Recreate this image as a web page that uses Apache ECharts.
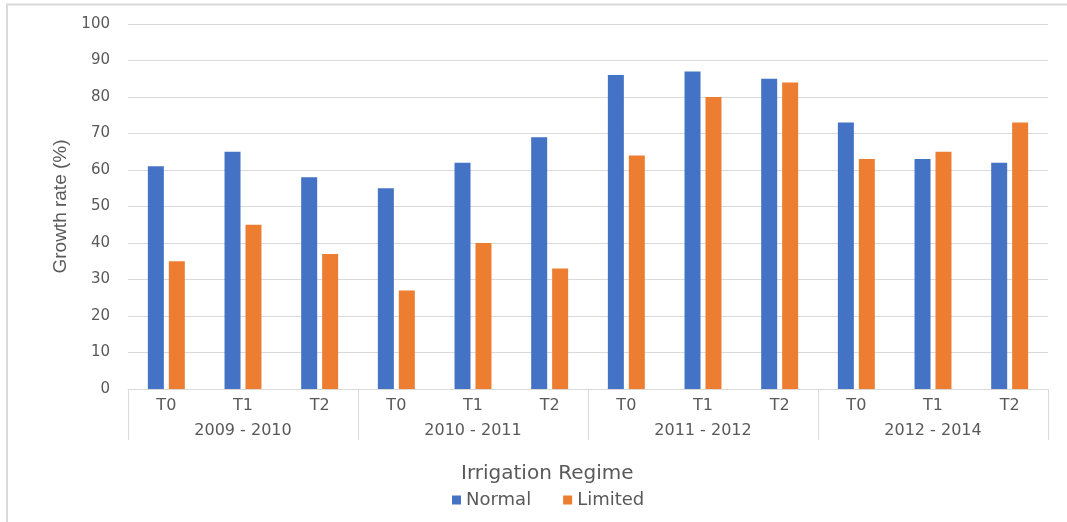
<!DOCTYPE html>
<html>
<head>
<meta charset="utf-8">
<script src="https://cdn.jsdelivr.net/npm/echarts@6/dist/echarts.min.js"></script>
<style>html,body{margin:0;padding:0;background:#fff;}#c{width:1067px;height:522px;}</style>
</head>
<body>
<div id="c"></div>
<script>
const treatments = ['T0','T1','T2','T0','T1','T2','T0','T1','T2','T0','T1','T2'];
const periods = ['2009 - 2010','2010 - 2011','2011 - 2012','2012 - 2014'];
const normal = [61,65,58,55,62,69,86,87,85,73,63,62];
const limited = [35,45,37,27,40,33,64,80,84,63,65,73];
const yTicks = [0,10,20,30,40,50,60,70,80,90,100];

const WIDE = 'DejaVu Sans, Verdana, sans-serif';
const FONT = 'Liberation Sans, Arial, sans-serif';
const TXT = '#595959';
const GRID = '#d9d9d9';
const chart = echarts.init(document.getElementById('c'));
chart.setOption({
  animation: false,
  title: {
    text: 'Irrigation Regime', left: 456, top: 459,
    textStyle: {fontFamily: WIDE, fontSize: 20, fontWeight: 'normal', color: TXT}
  },
  legend: {
    data: ['Normal','Limited'], left: 447, top: 486, itemWidth: 9, itemHeight: 9, itemGap: 32,
    icon: 'rect',
    textStyle: {fontFamily: WIDE, fontSize: 18, color: TXT}
  },
  graphic: [{
    type: 'polyline', silent: true,
    shape: {points: [[7,522],[7,4.5],[1067,4.5]]},
    style: {stroke: '#d9d9d9', lineWidth: 2, fill: null}
  }],
  grid: {left: 128, right: 19, top: 24, bottom: 133},
  xAxis: [{
    type: 'category', data: treatments,
    axisLine: {show: true, lineStyle: {color: GRID, width: 1}},
    axisTick: {show: false},
    axisLabel: {margin: 9, fontFamily: WIDE, fontSize: 16, color: TXT}
  }, {
    type: 'category', data: periods, position: 'bottom',
    axisLine: {show: false},
    axisTick: {show: true, length: 51, lineStyle: {color: GRID, width: 1}},
    axisLabel: {margin: 34, fontFamily: WIDE, fontSize: 16, color: TXT}
  }],
  yAxis: {
    type: 'value', min: yTicks[0], max: yTicks[yTicks.length-1], interval: 10,
    name: 'Growth rate (%)', nameLocation: 'middle', nameGap: 58, nameRotate: 90,
    nameMoveOverlap: false,
    nameTextStyle: {fontFamily: FONT, fontSize: 19, color: TXT},
    axisLine: {show: false}, axisTick: {show: false},
    axisLabel: {margin: 18, fontFamily: WIDE, fontSize: 15, color: TXT},
    splitLine: {lineStyle: {color: GRID, width: 1}}
  },
  series: [{
    name: 'Normal', type: 'bar', data: normal, xAxisIndex: 0,
    barWidth: 16, barGap: '31%', itemStyle: {color: '#4472c4'}
  }, {
    name: 'Limited', type: 'bar', data: limited, xAxisIndex: 0,
    barWidth: 16, barGap: '31%', itemStyle: {color: '#ed7d31'}
  }]
});
</script>
</body>
</html>
